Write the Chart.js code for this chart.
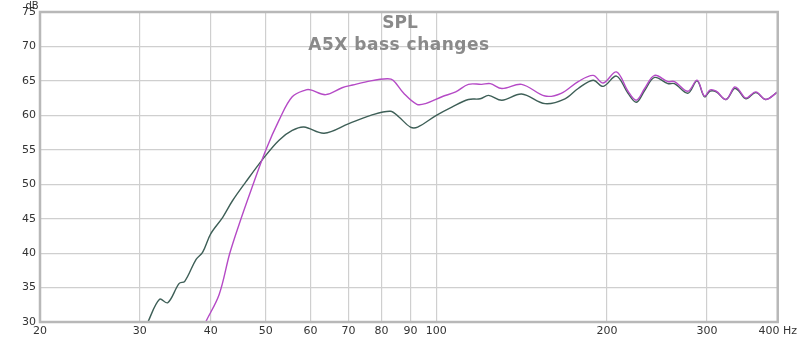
<!DOCTYPE html>
<html>
<head>
<meta charset="utf-8">
<script src="https://cdn.jsdelivr.net/npm/chart.js@4/dist/chart.umd.min.js"></script>
<style>
  html, body { margin: 0; padding: 0; background: #fff; }
  #spl { display: block; }
</style>
</head>
<body>
<canvas id="spl" width="800" height="339"></canvas>
<script>
// tick values
const xTicks = [20, 30, 40, 50, 60, 70, 80, 90, 100, 200, 300, 400];
const yMin = 30, yMax = 75;

// dark green trace
const greenFreq = [30.5, 31.0, 32.5, 33.6, 35.2, 36.0, 37.7, 38.7, 40.0, 42.0, 43.7, 46.1, 49.7, 52.8, 55.7, 58.4,
    63.4, 70.1, 76.6, 83.0, 85.8, 90.0, 92.7, 100, 106.5, 113.9, 119.5, 123.6, 130.5, 141.4, 155.5, 168.6,
    177.9, 189, 196.9, 207.8, 217.8, 225.3, 233, 242.6, 256, 263, 277.7, 288.3, 297, 304, 311.6, 324.2,
    335.4, 340.9, 351.5, 366, 381, 400];
const greenDb = [28.6, 30, 33.3, 32.8, 35.6, 35.9, 39.1, 40.1, 42.8, 45.2, 47.6, 50.3, 53.9, 56.4, 57.8, 58.3,
    57.4, 58.8, 60.0, 60.6, 59.8, 58.3, 58.3, 60.0, 61.2, 62.3, 62.4, 62.9, 62.2, 63.1, 61.7, 62.4,
    63.9, 65.1, 64.2, 65.7, 63.2, 61.9, 63.6, 65.5, 64.6, 64.6, 63.2, 65.0, 62.7, 63.5, 63.4, 62.3,
    63.9, 63.6, 62.4, 63.3, 62.3, 63.4];

// magenta trace
const magentaFreq = [38.5, 39.2, 41.4, 43.2, 44.9, 47.1, 50.0, 52.8, 55.7, 58.9, 60.0, 63.8, 68.2, 71.2, 76.6,
    81.9, 83.9, 87.6, 92.4, 95.7, 102.3, 108.2, 113.9, 120.2, 124.5, 130.5, 141.4, 155.5, 166, 177.9,
    189, 196.9, 207.8, 217.8, 225.3, 233, 242.6, 256, 263, 277.7, 288.3, 297, 304, 311.6, 324.2,
    335.4, 340.9, 351.5, 366, 381, 400];
const magentaDb = [28.5, 30, 34.0, 39.9, 44.2, 49.1, 54.9, 59.3, 62.7, 63.7, 63.7, 63.0, 64.0, 64.4, 65.0,
    65.3, 65.1, 63.2, 61.6, 61.7, 62.7, 63.4, 64.5, 64.5, 64.6, 63.9, 64.5, 62.8, 63.2, 64.9,
    65.8, 64.7, 66.3, 63.5, 62.2, 63.9, 65.8, 64.9, 64.9, 63.5, 65.1, 62.8, 63.7, 63.5, 62.3,
    64.1, 63.8, 62.5, 63.4, 62.3, 63.4];

const toPoints = (fs, ds) => fs.map((f, i) => ({ x: f, y: ds[i] }));

// frame, titles and unit label
const decor = {
    id: 'decor',
    beforeDatasetsDraw(chart) {
        const { ctx } = chart;
        ctx.save();
        ctx.fillStyle = '#8a8a8a';
        ctx.font = 'bold 17px "DejaVu Sans", sans-serif';
        ctx.textAlign = 'center';
        ctx.textBaseline = 'alphabetic';
        ctx.fillText('SPL', 400, 28);
        ctx.letterSpacing = '0.5px';
        ctx.fillText('A5X bass changes', 399, 50);
        ctx.restore();
    },
    afterDraw(chart) {
        const { ctx, chartArea: a } = chart;
        ctx.save();
        ctx.strokeStyle = '#b8b8b8';
        ctx.lineWidth = 2.5;
        ctx.strokeRect(a.left, a.top, a.right - a.left, a.bottom - a.top);
        ctx.fillStyle = '#333';
        ctx.font = '10px "DejaVu Sans", sans-serif';
        ctx.textAlign = 'center';
        ctx.textBaseline = 'alphabetic';
        ctx.fillText('dB', 32, 9);
        ctx.restore();
    }
};

new Chart(document.getElementById('spl'), {
    type: 'line',
    data: {
        datasets: [{
            label: 'magenta',
            data: toPoints(magentaFreq, magentaDb),
            borderColor: '#b54ac6',
            borderWidth: 1.4,
            tension: 0.35
        }, {
            label: 'green',
            data: toPoints(greenFreq, greenDb),
            borderColor: '#3e5f57',
            borderWidth: 1.4,
            tension: 0.35
        }]
    },
    options: {
        responsive: false,
        animation: false,
        layout: { padding: { top: 12, right: 20, left: 0, bottom: 0 } },
        elements: { point: { radius: 0 } },
        plugins: { legend: { display: false }, tooltip: { enabled: false } },
        scales: {
            x: {
                type: 'logarithmic',
                min: 20,
                max: 400,
                afterBuildTicks: s => { s.ticks = xTicks.map(v => ({ value: v })); },
                afterFit: s => { s.height = 17; },
                border: { display: false },
                grid: { color: '#cfcfcf', lineWidth: 1.2, drawTicks: false },
                ticks: {
                    autoSkip: false,
                    maxRotation: 0,
                    padding: 3,
                    color: '#333',
                    font: { family: '"DejaVu Sans", sans-serif', size: 11 },
                    callback: v => v === 400 ? '400 Hz' : String(v)
                }
            },
            y: {
                min: yMin,
                max: yMax,
                afterFit: s => { s.width = 40; },
                border: { display: false },
                grid: { color: '#cfcfcf', lineWidth: 1.2, drawTicks: false },
                ticks: {
                    stepSize: 5,
                    padding: 4,
                    color: '#333',
                    font: { family: '"DejaVu Sans", sans-serif', size: 11 }
                }
            }
        }
    },
    plugins: [decor]
});
</script>
</body>
</html>
